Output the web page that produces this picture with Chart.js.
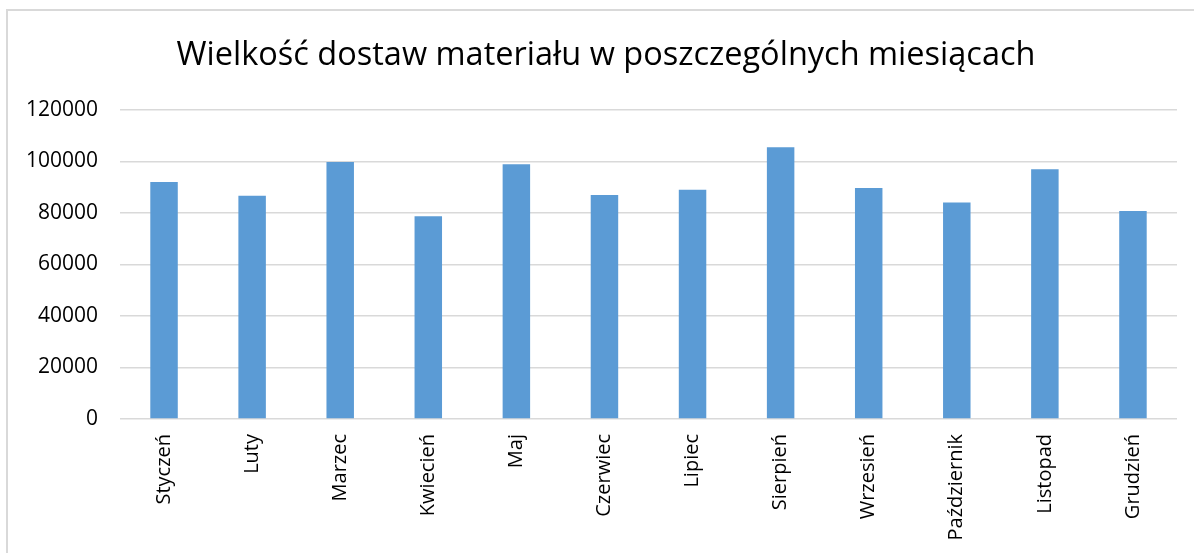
<!DOCTYPE html>
<html>
<head>
<meta charset="utf-8">
<script src="https://cdn.jsdelivr.net/npm/chart.js@4/dist/chart.umd.min.js"></script>
<style>
  body { margin: 0; background: #fff; overflow: hidden; }
  #frame {
    position: absolute; left: 6px; top: 9px;
    width: 1200px; height: 560px;
    border-left: 2px solid #d9d9d9; border-top: 2px solid #d9d9d9;
  }
</style>
</head>
<body>
<div id="frame"><canvas id="myChart"></canvas></div>
<script>
const miesiace = ['Styczeń', 'Luty', 'Marzec', 'Kwiecień', 'Maj', 'Czerwiec',
  'Lipiec', 'Sierpień', 'Wrzesień', 'Październik', 'Listopad', 'Grudzień'];
const dostawy = [92000, 86700, 99800, 78700, 98900, 87000,
  89000, 105500, 89700, 84100, 97000, 80800];
const yMin = 0;
const yMax = 120000;
const yKrok = 20000;

const ctx = document.getElementById('myChart');

let myChart = new Chart(ctx, {
  type: 'bar',
  data: {
    labels: miesiace,
    datasets: [{
      label: 'Wielkość dostaw',
      data: dostawy,
      backgroundColor: '#5b9bd5',
      borderWidth: 0,
      barPercentage: 0.312,
      categoryPercentage: 1
    }]
  },
  options: {
    responsive: true,
    maintainAspectRatio: false,
    animation: false,
    layout: { padding: { left: 0, right: 4, top: 0, bottom: 0 } },
    scales: {
      x: {
        grid: { display: false, drawTicks: false },
        border: { display: false },
        ticks: {
          minRotation: 90, maxRotation: 90,
          padding: 15,
          color: '#000',
          font: { family: 'Open Sans', size: 20 }
        },
        afterFit: (s) => { s.height = 152; }
      },
      y: {
        min: yMin,
        max: yMax,
        grid: { color: '#d9d9d9', lineWidth: 1.5, drawTicks: false },
        border: { display: false },
        ticks: {
          stepSize: yKrok,
          padding: 22,
          color: '#000',
          font: { family: 'Open Sans', size: 21 },
          callback: (v) => String(v)
        },
        afterFit: (s) => { s.width = 112; }
      },
      // pusta os po prawej - tylko po to, zeby tytul byl na srodku jak w oryginale
      yPusta: {
        position: 'right',
        grid: { display: false, drawTicks: false },
        border: { display: false },
        ticks: { display: false },
        afterFit: (s) => { s.width = 27; }
      }
    },
    plugins: {
      legend: { display: false },
      tooltip: { enabled: false },
      title: {
        display: true,
        text: 'Wielkość dostaw materiału w poszczególnych miesiącach',
        color: '#000',
        font: { family: 'Open Sans', size: 32.5, weight: 'normal' },
        padding: { top: 25, bottom: 35 }
      }
    }
  }
});
</script>
</body>
</html>
